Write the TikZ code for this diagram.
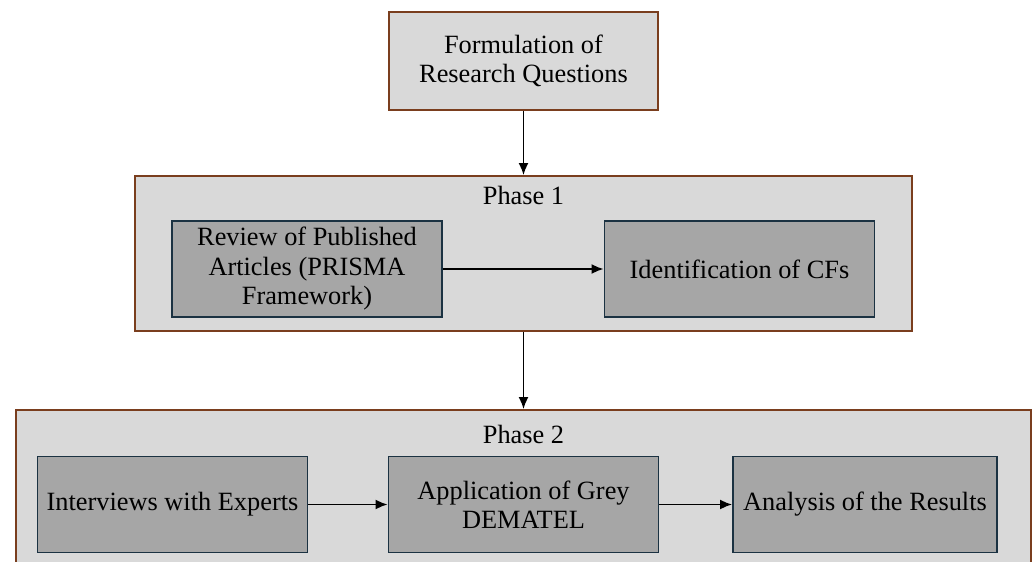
\documentclass[tikz,border=0pt]{standalone}
\usepackage{fontspec}
\setmainfont{Liberation Serif}
\usetikzlibrary{arrows.meta}

\definecolor{phasefill}{HTML}{D9D9D9}
\definecolor{stepfill}{HTML}{A6A6A6}
\definecolor{framebrown}{HTML}{7A3E1E}
\definecolor{stepedge}{HTML}{1B3242}

\tikzset{
  phasebox/.style={draw=framebrown, fill=phasefill, line width=1.1pt, inner sep=0pt},
  stepbox/.style={draw=stepedge, fill=stepfill, line width=1.1pt, minimum width=5.4cm,
    minimum height=1.92cm, align=center, inner sep=2pt},
  flow/.style={-{Latex[length=2.4mm,width=2mm]}, line width=1pt}
}

\begin{document}
\begin{tikzpicture}[x=0.02cm, y=-0.02cm, font=\fontsize{15}{16.8}\selectfont]
    \useasboundingbox (0,0) rectangle (1036,562);

    % Research questions
    \node[phasebox, align=center, minimum width=5.38cm, minimum height=1.96cm] (questions) at (523.5,61) {Formulation of\\Research Questions};

    % Phase 1
    \node[phasebox, minimum width=15.56cm, minimum height=3.1cm] (phase1) at (523.5,253.5) {};
    \node (p1title) at ([yshift=-0.4cm]phase1.north) {Phase 1};
    \node[stepbox] (review) at (307,269) {Review of Published\\Articles (PRISMA\\Framework)};
    \node[stepbox] (cfs) at (739.5,269) {Identification of CFs};

    % Phase 2
    \node[phasebox, minimum width=20.32cm, minimum height=3.4cm] (phase2) at (523.5,495) {};
    \node (p2title) at ([yshift=-0.5cm]phase2.north) {Phase 2};
    \node[stepbox] (interviews) at (172.5,504.5) {Interviews with Experts};
    \node[stepbox] (dematel) at (523.5,504.5) {Application of Grey\\DEMATEL};
    \node[stepbox, minimum width=5.28cm, minimum height=1.92cm] (analysis) at (865,504.5) {Analysis of the Results};

    % Connectors
    \draw[flow] (questions.south) -- (phase1.north);
    \draw[flow] (review.east) -- (cfs.west);
    \draw[flow] (phase1.south) -- (phase2.north);
    \draw[flow] (interviews.east) -- (dematel.west);
    \draw[flow] (dematel.east) -- (analysis.west);
\end{tikzpicture}
\end{document}
